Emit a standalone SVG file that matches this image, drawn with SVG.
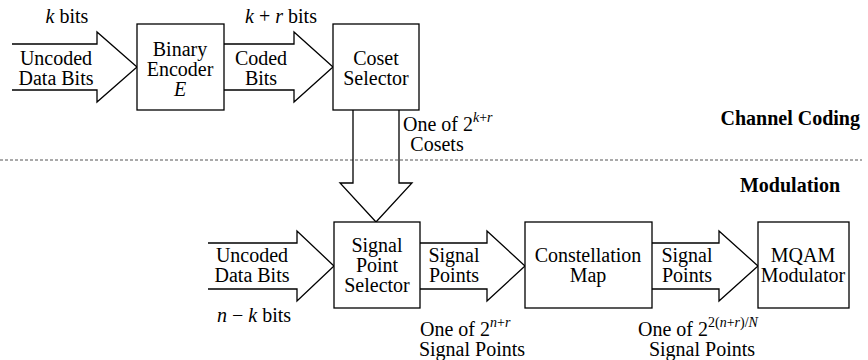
<svg xmlns="http://www.w3.org/2000/svg" width="868" height="360" viewBox="0 0 868 360" font-family="Liberation Serif" font-size="20">
<style>
text{font-family:'Liberation Serif','Times New Roman',serif;font-size:20px;fill:#000}
.c{text-anchor:middle}
.i{font-style:italic}
.sup{font-size:14px}
.b{font-weight:bold}
.box{fill:#fff;stroke:#000;stroke-width:1.3}
.arr{fill:none;stroke:#000;stroke-width:1.3;stroke-linejoin:miter}
</style>
<rect width="868" height="360" fill="#fff"/>
<line x1="0" y1="160" x2="862" y2="160" stroke="#555" stroke-width="1" stroke-dasharray="3,2"/>
<g id="connectors">
<path class="arr" d="M12,44 H97 V32 L137,67 L97,102 V90 H12"/>
<path class="arr" d="M224,44 H294 V32 L333,67 L294,102 V90 H224"/>
<path class="arr" d="M353,110 V183 H340 L376,222 L412,183 H399 V110"/>
<path class="arr" d="M208,243 H297 V231 L334,266 L297,301 V289 H208"/>
<path class="arr" d="M420,243 H487 V231 L525,266 L487,301 V289 H420"/>
<path class="arr" d="M652,243 H719 V231 L758,266 L719,301 V289 H652"/>
<text x="67" y="23" class="c"><tspan class="i">k</tspan> bits</text>
<text x="56" y="65" class="c">Uncoded</text>
<text x="56" y="85" class="c">Data Bits</text>
<text x="281" y="23" class="c"><tspan class="i">k</tspan> + <tspan class="i">r</tspan> bits</text>
<text x="261" y="65" class="c">Coded</text>
<text x="261" y="85" class="c">Bits</text>
<text x="403" y="131">One of 2<tspan class="sup i" dy="-9">k</tspan><tspan class="sup">+</tspan><tspan class="sup i">r</tspan></text>
<text x="437" y="151" class="c">Cosets</text>
<text x="252" y="262" class="c">Uncoded</text>
<text x="252" y="282" class="c">Data Bits</text>
<text x="254" y="322" class="c"><tspan class="i">n</tspan> − <tspan class="i">k</tspan> bits</text>
<text x="454" y="262" class="c">Signal</text>
<text x="454" y="282" class="c">Points</text>
<text x="420" y="336">One of 2<tspan class="sup i" dy="-9">n</tspan><tspan class="sup">+</tspan><tspan class="sup i">r</tspan></text>
<text x="472" y="356" class="c">Signal Points</text>
<text x="687" y="262" class="c">Signal</text>
<text x="687" y="282" class="c">Points</text>
<text x="638" y="336">One of 2<tspan class="sup" dy="-9">2(</tspan><tspan class="sup i">n</tspan><tspan class="sup">+</tspan><tspan class="sup i">r</tspan><tspan class="sup">)/</tspan><tspan class="sup i">N</tspan></text>
<text x="702" y="356" class="c">Signal Points</text>
</g>
<g id="binary-encoder">
<rect class="box" x="137" y="24" width="87" height="86"/>
<text x="180" y="56" class="c">Binary</text>
<text x="180" y="76" class="c">Encoder</text>
<text x="180" y="96" class="c i">E</text>
</g>
<g id="coset-selector">
<rect class="box" x="333" y="24" width="86" height="86"/>
<text x="376" y="65" class="c">Coset</text>
<text x="376" y="85" class="c">Selector</text>
</g>
<g id="signal-point-selector">
<rect class="box" x="334" y="222" width="86" height="86"/>
<text x="377" y="252" class="c">Signal</text>
<text x="377" y="272" class="c">Point</text>
<text x="377" y="292" class="c">Selector</text>
</g>
<g id="constellation-map">
<rect class="box" x="525" y="222" width="127" height="86"/>
<text x="588" y="262" class="c">Constellation</text>
<text x="588" y="282" class="c">Map</text>
</g>
<g id="mqam-modulator">
<rect class="box" x="758" y="222" width="91" height="86"/>
<text x="803" y="262" class="c">MQAM</text>
<text x="803" y="282" class="c">Modulator</text>
</g>
<g id="labels">
<text x="860" y="125" class="b" text-anchor="end">Channel Coding</text>
<text x="790" y="192" class="b c">Modulation</text>
</g>
</svg>
